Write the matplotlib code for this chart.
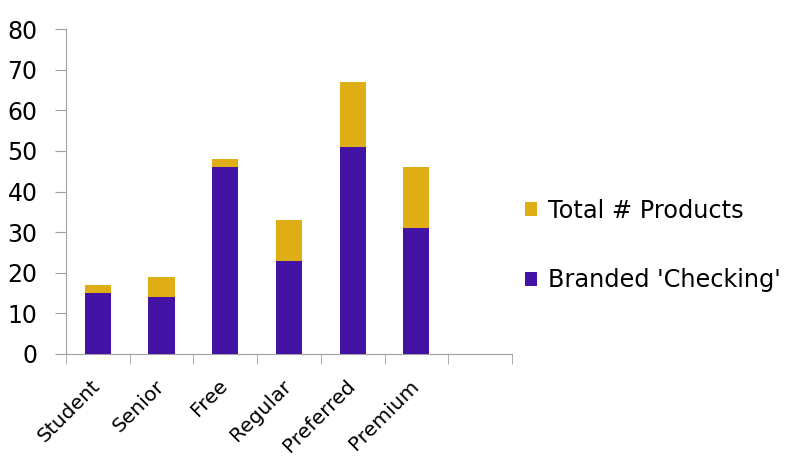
import matplotlib
matplotlib.use('Agg')
from matplotlib import pyplot as plt
from matplotlib.transforms import ScaledTranslation
import numpy as np

# data
categories = ['Student', 'Senior', 'Free', 'Regular', 'Preferred', 'Premium', '']
total_products = [17, 19, 48, 33, 67, 46, 0]
branded_checking = [15, 14, 46, 23, 51, 31, 0]

gold = '#DFAD16'
purple = '#4313A6'

plt.rcParams['font.family'] = ['DejaVu Sans']

fig = plt.figure(figsize=(7.9, 4.57), dpi=100, facecolor='#ffffff')
ax = fig.add_axes([0.0835, 0.2254, 0.5645, 0.7111])

x = np.arange(len(categories))
ax.bar(x, total_products, width=0.41, color=gold, label='Total # Products', zorder=2)
ax.bar(x, branded_checking, width=0.41, color=purple, label="Branded 'Checking'", zorder=3)

ax.set_xlim(-0.5, len(categories) - 0.5)
ax.set_ylim(0, 80)
ax.set_yticks(np.arange(0, 81, 10))

ax.set_xticks(x)
ax.set_xticklabels(categories, rotation=45, ha='right', rotation_mode='anchor', fontsize=14.6)
ax.set_xticks(np.arange(-0.5, len(categories)), minor=True)
ax.tick_params(axis='x', which='major', length=0, pad=16)
ax.tick_params(axis='x', which='minor', length=7, color='#a0a0a0', direction='out')
ax.tick_params(axis='y', length=8, color='#a0a0a0', direction='out', labelsize=17, pad=12.5)

# nudge category labels to the left a little
shift = ScaledTranslation(-7 / 100, 0, fig.dpi_scale_trans)
for lab in ax.get_xticklabels():
    lab.set_transform(lab.get_transform() + shift)

for s in ['top', 'right']:
    ax.spines[s].set_visible(False)
ax.spines['left'].set_color('#a0a0a0')
ax.spines['bottom'].set_color('#a0a0a0')

h, l = ax.get_legend_handles_labels()
fig.legend(h, l, loc='center left', bbox_to_anchor=(0.637, 0.463), frameon=False,
           fontsize=17.3, handlelength=0.52, handleheight=0.52, handletextpad=0.45,
           labelspacing=1.9)

plt.savefig('out.png', dpi=100)
